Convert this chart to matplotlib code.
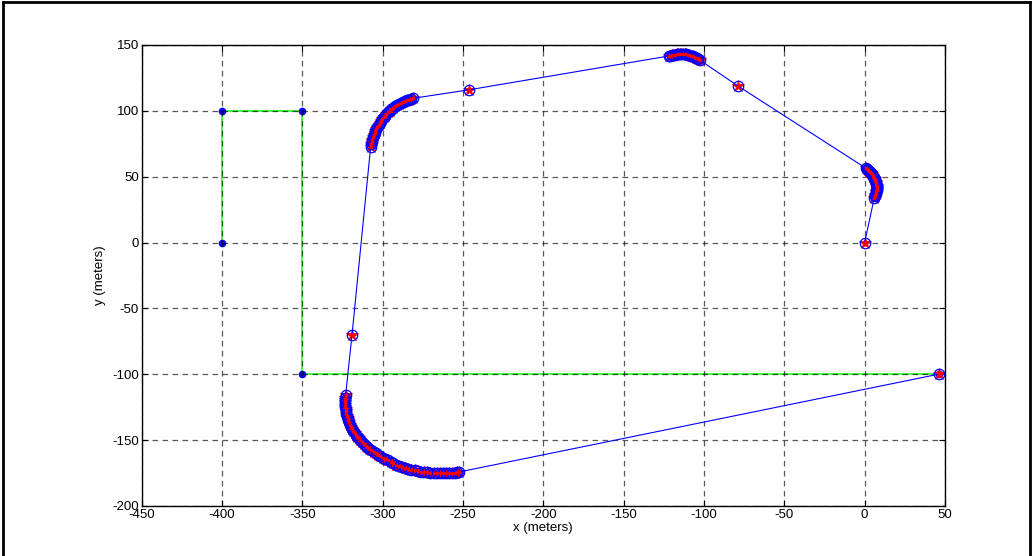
import matplotlib
matplotlib.use("Agg")
import matplotlib.pyplot as plt
from matplotlib.lines import Line2D

plt.rcParams['font.family'] = ['Liberation Sans', 'DejaVu Sans']
plt.rcParams['axes.unicode_minus'] = False

# waypoints (green route)
wp_x = [-400, -400, -350, -350, 46]
wp_y = [0, 100, 100, -100, -100]

# vehicle track, segment by segment
start_x, start_y = [0], [0]
arc1_x = [6.0, 6.3, 6.6, 6.9, 7.1, 7.3, 7.4, 7.5, 7.5, 7.4, 7.3, 7.1, 6.9, 6.6, 6.3,
          5.9, 5.5, 5.0, 4.5, 3.9, 3.3, 2.7, 2.0, 1.3, 0.6]
arc1_y = [34, 35, 36, 37, 38, 39, 40, 41, 42, 43, 44, 45, 46, 47, 48,
          49, 49.9, 50.8, 51.7, 52.6, 53.5, 54.3, 55.1, 55.9, 56.6]
p1_x, p1_y = [-79], [119]
arc2_x = [-102.5, -103.4, -104.3, -105.2, -106.1, -107, -108, -109, -110, -111, -112,
          -113, -114, -115, -116, -117, -118, -119, -120, -121, -122]
arc2_y = [138.5, 139.2, 139.8, 140.4, 140.9, 141.4, 141.9, 142.3, 142.6, 142.9, 143.1,
          143.2, 143.2, 143.2, 143.1, 142.9, 142.7, 142.5, 142.2, 141.9, 141.6]
p2_x, p2_y = [-246], [116]
arc3_x = [-281, -282.3, -283.6, -284.9, -286.2, -287.5, -288.8, -290, -291.2, -292.4,
          -293.5, -294.6, -295.6, -296.6, -297.6, -298.5, -299.4, -300.2, -301, -301.8,
          -302.5, -303.2, -303.8, -304.4, -305, -305.5, -306, -306.4, -306.8, -307.1, -307.4]
arc3_y = [109.5, 109.1, 108.6, 108.1, 107.5, 106.8, 106, 105.2, 104.3, 103.3,
          102.3, 101.2, 100.1, 98.9, 97.7, 96.4, 95.1, 93.7, 92.3, 90.9,
          89.4, 87.9, 86.4, 84.8, 83.2, 81.6, 79.9, 78.2, 76.5, 74.7, 72.8]
p3_x, p3_y = [-319], [-70]
arc4_x = [-323, -323.2, -323.3, -323.3, -323.3, -323.2, -323, -322.8, -322.5, -322.2,
          -321.8, -321.3, -320.8, -320.2, -319.6, -318.9, -318.2, -317.4, -316.6, -315.7,
          -314.8, -313.8, -312.8, -311.7, -310.6, -309.4, -308.2, -306.9, -305.6, -304.2,
          -302.8, -301.3, -299.8, -298.2, -296.6, -294.9, -293.2, -291.4, -289.6, -287.7,
          -285.8, -283.9, -282, -280, -278.1, -276.1, -274.2, -272.2, -270.3, -268.3,
          -266.4, -264.4, -262.5, -260.6, -258.7, -256.9, -255.2, -253.6, -252.2]
arc4_y = [-116, -117.8, -119.5, -121.3, -123, -124.8, -126.5, -128.3, -130, -131.7,
          -133.3, -135, -136.6, -138.2, -139.8, -141.4, -142.9, -144.4, -145.9, -147.4,
          -148.8, -150.2, -151.6, -152.9, -154.2, -155.5, -156.7, -157.9, -159, -160.1,
          -161.2, -162.3, -163.3, -164.4, -165.5, -166.6, -167.6, -168.6, -169.5, -170.4,
          -171.2, -171.9, -172.5, -173, -173.5, -173.9, -174.2, -174.5, -174.7, -174.9,
          -175, -175.1, -175.2, -175.2, -175.1, -174.9, -174.7, -174.5, -174.2]
end_x, end_y = [46], [-100]

track_x = start_x + arc1_x + p1_x + arc2_x + p2_x + arc3_x + p3_x + arc4_x + end_x
track_y = start_y + arc1_y + p1_y + arc2_y + p2_y + arc3_y + p3_y + arc4_y + end_y

xticks = list(range(-450, 51, 50))
yticks = list(range(-200, 151, 50))

fig = plt.figure(figsize=(10.33, 5.56), dpi=100)
ax = fig.add_axes([0.137, 0.0901, 0.7778, 0.829])

ax.plot(wp_x, wp_y, color='#33ff33', lw=1.3, zorder=1)
ax.plot(wp_x, wp_y, 'b.', markersize=9, zorder=2)
ax.plot(track_x, track_y, 'r*', markersize=9, markeredgewidth=0.6, zorder=3)
ax.plot(track_x, track_y, 'b-o', lw=0.8, markersize=7.5, markerfacecolor='none',
        markeredgewidth=0.9, zorder=4)
ax.plot(track_x, track_y, 'r.', markersize=3, zorder=5)

ax.set_xlim(-450, 50)
ax.set_ylim(-200, 150)
ax.set_xticks(xticks)
ax.set_yticks(yticks)
ax.grid(True, color='k', alpha=0.65, linestyle=(0, (4.5, 3.5)), lw=0.9)
ax.set_axisbelow(False)
ax.tick_params(direction='in', top=True, right=True, length=4, labelsize=9.5,
               pad=2, width=0.8)
for s in ax.spines.values():
    s.set_linewidth(1.0)
    s.set_zorder(10)

ax.set_xlabel('x (meters)', fontsize=9.5, labelpad=1)
ax.set_ylabel('y (meters)', fontsize=9.5, labelpad=4)

# figure frame
fig.add_artist(Line2D([0.003, 0.003], [0, 0.996], transform=fig.transFigure, color='k', lw=2))
fig.add_artist(Line2D([0.003, 0.997], [0.996, 0.996], transform=fig.transFigure, color='k', lw=2))
fig.add_artist(Line2D([0.997, 0.997], [0, 0.996], transform=fig.transFigure, color='k', lw=2))

fig.savefig('out.png', dpi=100)
